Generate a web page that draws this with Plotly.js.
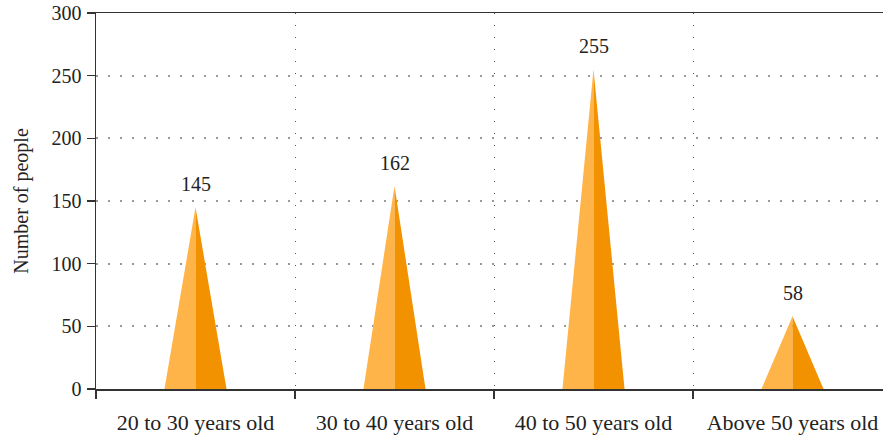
<!DOCTYPE html>
<html>
<head>
<meta charset="utf-8">
<script src="https://cdn.plot.ly/plotly-3.0.1.min.js"></script>
<style>
  html, body { margin: 0; padding: 0; overflow: hidden; background: #fff; }
  #chart { width: 896px; height: 436px; }
</style>
</head>
<body>
<div id="chart"></div>
<script>
// Age groups and head counts
const categories = ["20 to 30 years old", "30 to 40 years old", "40 to 50 years old", "Above 50 years old"];
const counts = [145, 162, 255, 58];
const yTicks = [0, 50, 100, 150, 200, 250, 300];

const lightOrange = "#FFB44A";
const darkOrange = "#F39200";
const halfBase = 0.156; // half of the pyramid base, in category units

const font = "'Liberation Serif', 'DejaVu Serif', serif";
const textColor = "#222";
const traces = [];

categories.forEach((cat, i) => {
  const v = counts[i];
  // left (lit) face
  traces.push({
    type: "scatter", mode: "lines", fill: "toself",
    x: [i - halfBase, i, i, i - halfBase], y: [0, v, 0, 0],
    fillcolor: lightOrange, line: { width: 0, color: lightOrange },
    hoverinfo: "skip", showlegend: false, xaxis: "x", yaxis: "y"
  });
  // right (shaded) face
  traces.push({
    type: "scatter", mode: "lines", fill: "toself",
    x: [i, i, i + halfBase, i], y: [0, v, 0, 0],
    fillcolor: darkOrange, line: { width: 0, color: darkOrange },
    hoverinfo: "skip", showlegend: false, xaxis: "x", yaxis: "y"
  });
});

// invisible trace carrying the category labels on the second x axis
traces.push({
  type: "scatter", mode: "markers",
  x: categories.map((c, i) => i), y: counts,
  marker: { opacity: 0 }, hoverinfo: "skip", showlegend: false,
  xaxis: "x2", yaxis: "y"
});

const boundaries = [-0.5, 0.5, 1.5, 2.5, 3.5];

const annotations = categories.map((c, i) => ({
  x: i, y: counts[i], xref: "x", yref: "y",
  text: String(counts[i]), showarrow: false,
  yanchor: "bottom", yshift: 10,
  font: { family: font, size: 20, color: textColor }
}));

const layout = {
  margin: { l: 96, r: 4, t: 13, b: 47 },
  paper_bgcolor: "#fff",
  plot_bgcolor: "#fff",
  showlegend: false,
  font: { family: font, size: 20, color: textColor },
  xaxis: {
    type: "linear", range: [-0.5, 3.5],
    tickvals: boundaries, ticktext: boundaries.map(() => ""),
    ticks: "outside", ticklen: 8, tickwidth: 1.5, tickcolor: "#333",
    showline: true, linecolor: "#333", linewidth: 1.5, mirror: true,
    showgrid: true, gridcolor: "#555", gridwidth: 1, griddash: "1px,11px",
    zeroline: false, fixedrange: true
  },
  xaxis2: {
    type: "linear", overlaying: "x", matches: "x", side: "bottom",
    range: [-0.5, 3.5],
    tickvals: categories.map((c, i) => i), ticktext: categories,
    ticks: "", showgrid: false, showline: false, zeroline: false,
    ticklabelstandoff: 18,
    tickfont: { family: font, size: 22, color: textColor }
  },
  yaxis: {
    range: [0, 300], tickvals: yTicks,
    ticks: "outside", ticklen: 8, tickwidth: 1.5, tickcolor: "#333",
    showline: true, linecolor: "#333", linewidth: 1.5,
    showgrid: true, gridcolor: "#999", gridwidth: 2, griddash: "2px,10px",
    zeroline: false, ticklabelstandoff: 1,
    tickfont: { family: font, size: 20, color: textColor },
    title: { text: "Number of people", font: { family: font, size: 20, color: textColor }, standoff: 17 },
    fixedrange: true
  },
  annotations: annotations
};

Plotly.newPlot("chart", traces, layout, { displayModeBar: false, staticPlot: true });
</script>
</body>
</html>
